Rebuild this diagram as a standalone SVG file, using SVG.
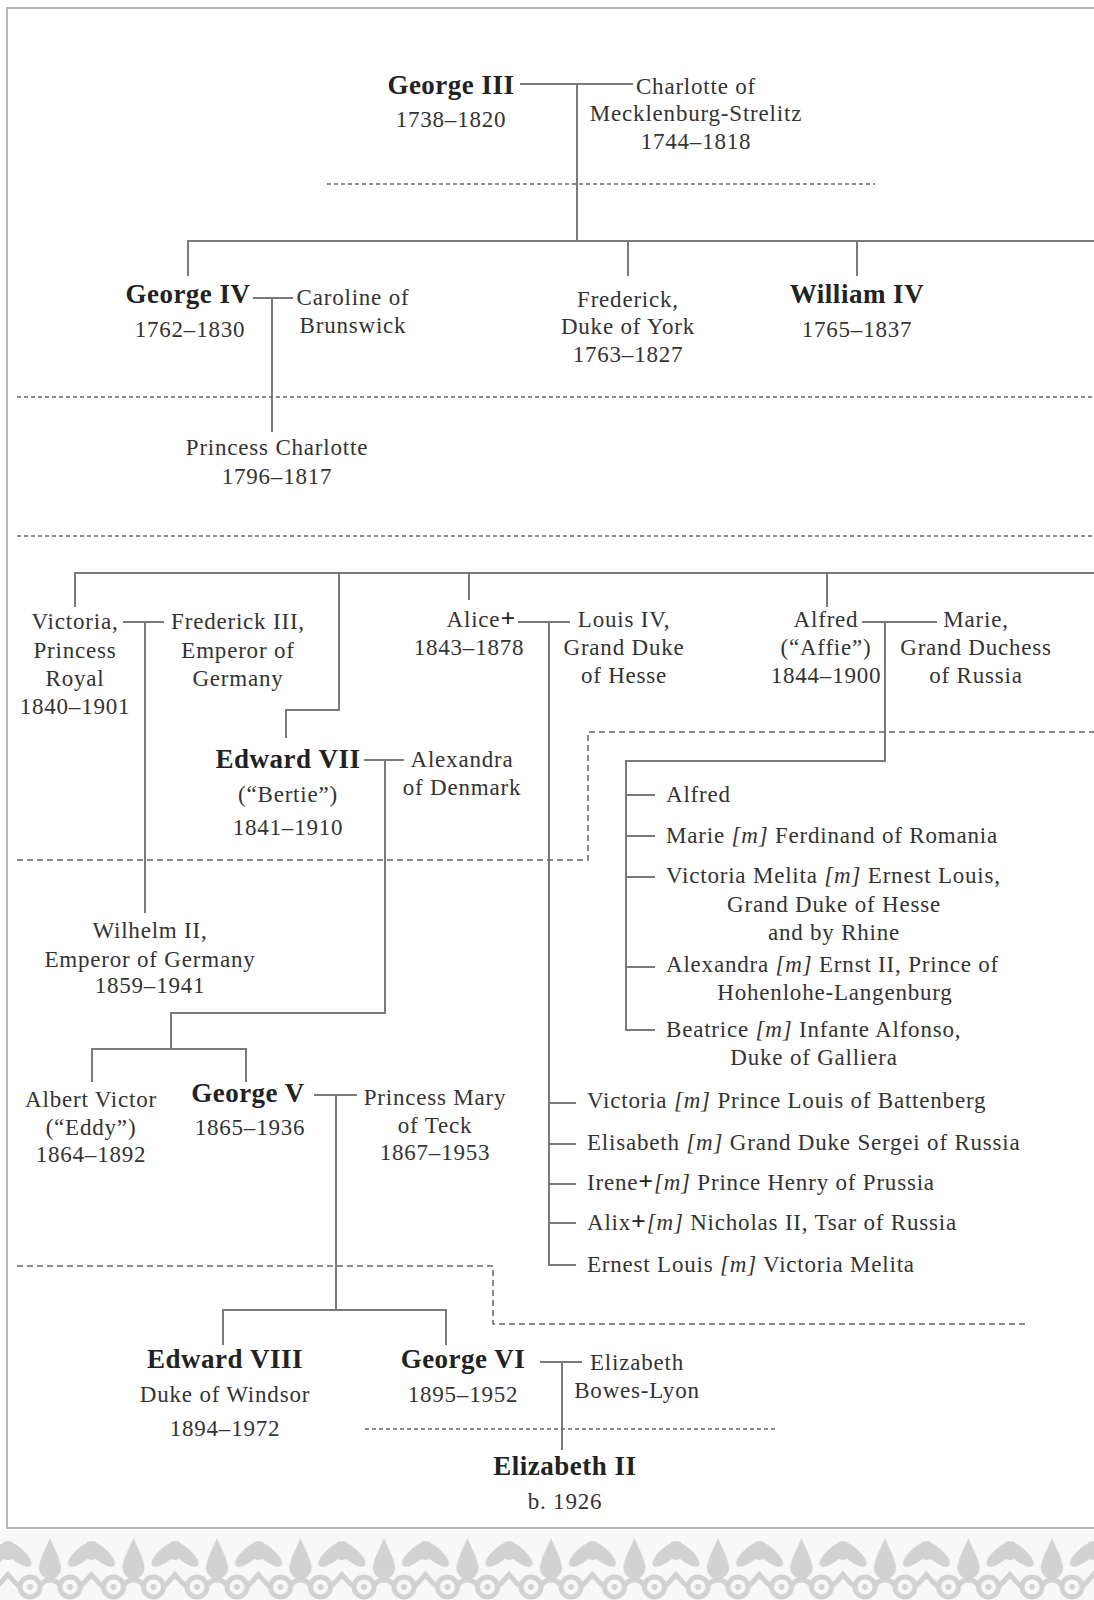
<svg xmlns="http://www.w3.org/2000/svg" width="1094" height="1600" viewBox="0 0 1094 1600">
<defs>
<style>
text { font-family: "Liberation Serif", "Times New Roman", serif; fill: #333; }
.r { font-size: 23px; letter-spacing: 0.8px; }
.b { font-size: 27px; font-weight: bold; letter-spacing: 0.5px; fill: #222; }
.c { text-anchor: middle; }
.e { text-anchor: end; }
.i { font-style: italic; }
.x { font-weight: bold; fill: #222; font-size: 26px; }
.ln { fill: none; stroke: #7a7a7a; stroke-width: 2; }
.dt { fill: none; stroke: #666; stroke-width: 1.5; stroke-dasharray: 4 3; }
.ds { fill: none; stroke: #666; stroke-width: 1.5; stroke-dasharray: 6 4; }
.frame { fill: none; stroke: #b8b8b8; stroke-width: 2; }
.orn { fill: #d2d2d2; }
.ornS { fill: none; stroke: #d2d2d2; stroke-width: 5; }
</style>
<pattern id="ornament" x="8" y="1536" width="83.5" height="64" patternUnits="userSpaceOnUse">
  <path class="orn" d="M42,2 C47,14 53,24 53,32 A11,11 0 0 1 31,32 C31,24 37,14 42,2Z"/>
  <ellipse class="orn" cx="9" cy="18" rx="18" ry="7" transform="rotate(40 9 18)"/>
  <ellipse class="orn" cx="-9" cy="18" rx="18" ry="7" transform="rotate(-40 -9 18)"/>
  <ellipse class="orn" cx="92.5" cy="18" rx="18" ry="7" transform="rotate(40 92.5 18)"/>
  <ellipse class="orn" cx="74.5" cy="18" rx="18" ry="7" transform="rotate(-40 74.5 18)"/>
  <circle class="orn" cx="0" cy="16" r="8"/>
  <circle class="orn" cx="83.5" cy="16" r="8"/>
  <circle class="ornS" cx="22" cy="51" r="10"/>
  <circle class="orn" cx="22" cy="51" r="3"/>
  <circle class="ornS" cx="62" cy="51" r="10"/>
  <circle class="orn" cx="62" cy="51" r="3"/>
  <path class="ornS" d="M32,50 C36,42 48,42 52,50 M-2,36 C4,44 8,48 12,51 M85.5,36 C79,44 75,48 72,51"/>
</pattern>
</defs>

<rect x="0" y="0" width="1094" height="1600" fill="#ffffff"/>
<rect x="0" y="1530" width="1094" height="70" fill="#f8f8f8"/>
<rect x="0" y="1536" width="1094" height="64" fill="url(#ornament)"/>
<path class="frame" d="M1094,8 H7 V1528 H1094"/>

<g id="connectors">
  <path class="ln" d="M520,84 H633 M577,84 V241"/>
  <path class="ln" d="M188,276 V241 H1094 M628,241 V276 M857,241 V276"/>
  <path class="ln" d="M253,298 H293 M272,298 V432"/>
  <path class="ln" d="M75,607 V573 H1094 M469,573 V600 M827,573 V607 M339,573 V710 H286 V738"/>
  <path class="ln" d="M123,622 H164 M145,622 V913"/>
  <path class="ln" d="M518,622 H570 M549,622 V1265 H576 M549,1103 H576 M549,1144 H576 M549,1184 H576 M549,1223 H576"/>
  <path class="ln" d="M862,622 H937 M885,622 V761 H626 V1030 H655 M626,795 H655 M626,836 H655 M626,877 H655 M626,967 H655"/>
  <path class="ln" d="M364,760 H404 M385,760 V1013 H171 V1049 M92,1082 V1049 H246 V1082"/>
  <path class="ln" d="M314,1095 H357 M336,1095 V1310 M223,1345 V1310 H446 V1345"/>
  <path class="ln" d="M540,1362 H582 M562,1362 V1450"/>
  <path class="dt" d="M327,184 H875"/>
  <path class="dt" d="M17,397 H1094"/>
  <path class="dt" d="M17,536 H1094"/>
  <path class="ds" d="M17,860 H588 V732 H1094"/>
  <path class="ds" d="M17,1266 H493 V1324 H1027"/>
  <path class="dt" d="M365,1429 H778"/>
</g>

<g id="george-iii"><text class="b c" x="451" y="94">George III</text><text class="r c" x="451" y="127">1738–1820</text></g>
<g id="charlotte"><text class="r c" x="696" y="94">Charlotte of</text><text class="r c" x="696" y="121">Mecklenburg-Strelitz</text><text class="r c" x="696" y="149">1744–1818</text></g>

<g id="george-iv"><text class="b c" x="188" y="303">George IV</text><text class="r c" x="190" y="337">1762–1830</text></g>
<g id="caroline"><text class="r c" x="353" y="305">Caroline of</text><text class="r c" x="353" y="333">Brunswick</text></g>
<g id="frederick-york"><text class="r c" x="628" y="307">Frederick,</text><text class="r c" x="628" y="334">Duke of York</text><text class="r c" x="628" y="362">1763–1827</text></g>
<g id="william-iv"><text class="b c" x="857" y="303">William IV</text><text class="r c" x="857" y="337">1765–1837</text></g>
<g id="princess-charlotte"><text class="r c" x="277" y="455">Princess Charlotte</text><text class="r c" x="277" y="484">1796–1817</text></g>

<g id="victoria-royal"><text class="r c" x="75" y="629">Victoria,</text><text class="r c" x="75" y="658">Princess</text><text class="r c" x="75" y="686">Royal</text><text class="r c" x="75" y="714">1840–1901</text></g>
<g id="frederick-iii"><text class="r c" x="238" y="629">Frederick III,</text><text class="r c" x="238" y="658">Emperor of</text><text class="r c" x="238" y="686">Germany</text></g>
<g id="alice"><text class="r e" x="516" y="627">Alice<tspan class="x">+</tspan></text><text class="r c" x="469" y="655">1843–1878</text></g>
<g id="louis-iv"><text class="r c" x="624" y="627">Louis IV,</text><text class="r c" x="624" y="655">Grand Duke</text><text class="r c" x="624" y="683">of Hesse</text></g>
<g id="alfred"><text class="r c" x="826" y="627">Alfred</text><text class="r c" x="826" y="655">(“Affie”)</text><text class="r c" x="826" y="683">1844–1900</text></g>
<g id="marie-russia"><text class="r c" x="976" y="627">Marie,</text><text class="r c" x="976" y="655">Grand Duchess</text><text class="r c" x="976" y="683">of Russia</text></g>
<g id="edward-vii"><text class="b c" x="288" y="768">Edward VII</text><text class="r c" x="288" y="802">(“Bertie”)</text><text class="r c" x="288" y="835">1841–1910</text></g>
<g id="alexandra"><text class="r c" x="462" y="767">Alexandra</text><text class="r c" x="462" y="795">of Denmark</text></g>
<g id="wilhelm-ii"><text class="r c" x="150" y="938">Wilhelm II,</text><text class="r c" x="150" y="967">Emperor of Germany</text><text class="r c" x="150" y="993">1859–1941</text></g>

<g id="alfred-children">
  <text class="r" x="666" y="802">Alfred</text>
  <text class="r" x="666" y="843">Marie <tspan class="i">[m]</tspan> Ferdinand of Romania</text>
  <text class="r" x="666" y="883">Victoria Melita <tspan class="i">[m]</tspan> Ernest Louis,</text>
  <text class="r c" x="834" y="912">Grand Duke of Hesse</text>
  <text class="r c" x="834" y="940">and by Rhine</text>
  <text class="r" x="666" y="972">Alexandra <tspan class="i">[m]</tspan> Ernst II, Prince of</text>
  <text class="r c" x="835" y="1000">Hohenlohe-Langenburg</text>
  <text class="r" x="666" y="1037">Beatrice <tspan class="i">[m]</tspan> Infante Alfonso,</text>
  <text class="r c" x="814" y="1065">Duke of Galliera</text>
</g>

<g id="alice-children">
  <text class="r" x="587" y="1108">Victoria <tspan class="i">[m]</tspan> Prince Louis of Battenberg</text>
  <text class="r" x="587" y="1150">Elisabeth <tspan class="i">[m]</tspan> Grand Duke Sergei of Russia</text>
  <text class="r" x="587" y="1190">Irene<tspan class="x">+</tspan><tspan class="i">[m]</tspan> Prince Henry of Prussia</text>
  <text class="r" x="587" y="1230">Alix<tspan class="x">+</tspan><tspan class="i">[m]</tspan> Nicholas II, Tsar of Russia</text>
  <text class="r" x="587" y="1272">Ernest Louis <tspan class="i">[m]</tspan> Victoria Melita</text>
</g>

<g id="albert-victor"><text class="r c" x="91" y="1107">Albert Victor</text><text class="r c" x="91" y="1135">(“Eddy”)</text><text class="r c" x="91" y="1162">1864–1892</text></g>
<g id="george-v"><text class="b c" x="248" y="1102">George V</text><text class="r c" x="250" y="1135">1865–1936</text></g>
<g id="mary-teck"><text class="r c" x="435" y="1105">Princess Mary</text><text class="r c" x="435" y="1133">of Teck</text><text class="r c" x="435" y="1160">1867–1953</text></g>
<g id="edward-viii"><text class="b c" x="225" y="1368">Edward VIII</text><text class="r c" x="225" y="1402">Duke of Windsor</text><text class="r c" x="225" y="1436">1894–1972</text></g>
<g id="george-vi"><text class="b c" x="463" y="1368">George VI</text><text class="r c" x="463" y="1402">1895–1952</text></g>
<g id="elizabeth-bl"><text class="r c" x="637" y="1370">Elizabeth</text><text class="r c" x="637" y="1398">Bowes-Lyon</text></g>
<g id="elizabeth-ii"><text class="b c" x="565" y="1475">Elizabeth II</text><text class="r c" x="565" y="1509">b. 1926</text></g>
</svg>
